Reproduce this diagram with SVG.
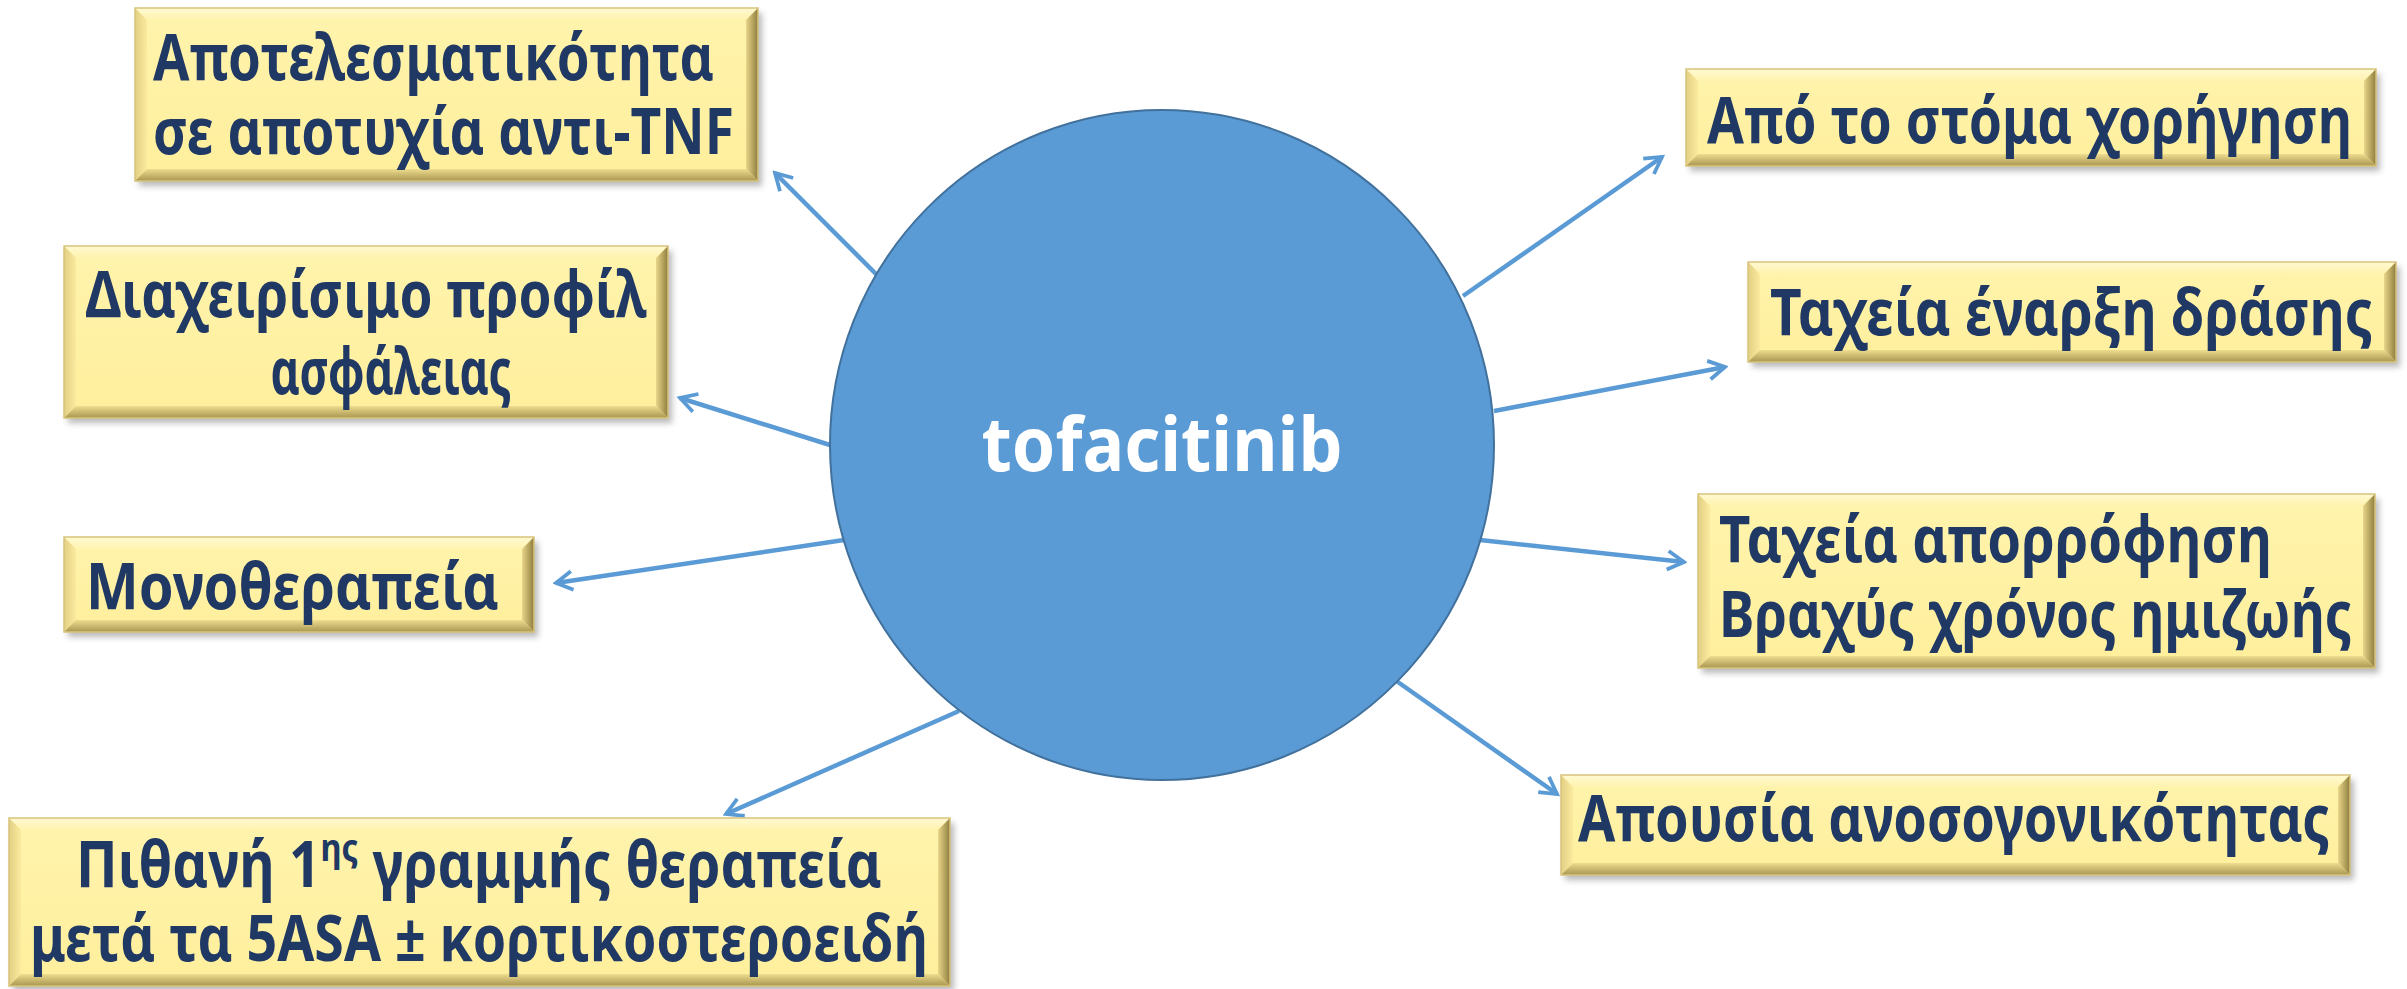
<svg xmlns="http://www.w3.org/2000/svg" width="2407" height="989" viewBox="0 0 2407 989">
<defs>
<style>
.t{font-family:"Noto Sans","Open Sans","DejaVu Sans",sans-serif;font-weight:700;font-size:64px;fill:#203864}
.c{font-family:"Noto Sans","Open Sans","DejaVu Sans",sans-serif;font-weight:700;font-size:76px;fill:#ffffff}
.face{fill:url(#gFace)}
.bt{fill:url(#gTop)}
.bl{fill:url(#gLeft)}
.br{fill:url(#gRight)}
.bb{fill:url(#gBottom)}
.sh{fill:#7f7f7f;opacity:0.55;filter:url(#blur)}
.edge{fill:none;stroke:#d8c47c;stroke-width:1.5}
.con{stroke:#5b9bd5;stroke-width:4.5;fill:none;stroke-linecap:butt}
</style>
<linearGradient id="gFace" x1="0" y1="0" x2="0" y2="1">
<stop offset="0" stop-color="#fff4ad"/><stop offset="1" stop-color="#ffef9c"/>
</linearGradient>
<linearGradient id="gTop" x1="0" y1="0" x2="0" y2="1">
<stop offset="0" stop-color="#fff9d2"/><stop offset="1" stop-color="#fff3ae"/>
</linearGradient>
<linearGradient id="gLeft" x1="0" y1="0" x2="1" y2="0">
<stop offset="0" stop-color="#e2cf84"/><stop offset="1" stop-color="#fbeb9f"/>
</linearGradient>
<linearGradient id="gRight" x1="0" y1="0" x2="1" y2="0">
<stop offset="0" stop-color="#e9d68a"/><stop offset="1" stop-color="#8e7d3e"/>
</linearGradient>
<linearGradient id="gBottom" x1="0" y1="0" x2="0" y2="1">
<stop offset="0" stop-color="#eedc8f"/><stop offset="1" stop-color="#a99650"/>
</linearGradient>
<filter id="blur" x="-10%" y="-10%" width="120%" height="130%"><feGaussianBlur stdDeviation="3"/></filter>
<marker id="arr" viewBox="0 0 20 20" refX="17" refY="10" markerWidth="5.2" markerHeight="5.2" markerUnits="strokeWidth" orient="auto">
<path d="M3,2 L17,10 L3,18" fill="none" stroke="#5b9bd5" stroke-width="3.2" stroke-linejoin="miter"/>
</marker>
</defs>
<rect width="2407" height="989" fill="#ffffff"/>

<g id="connectors">
<line class="con" x1="878" y1="276" x2="775" y2="173" marker-end="url(#arr)"/>
<line class="con" x1="830" y1="445" x2="680" y2="398" marker-end="url(#arr)"/>
<line class="con" x1="844" y1="540" x2="556" y2="583" marker-end="url(#arr)"/>
<line class="con" x1="959" y1="711" x2="726" y2="814" marker-end="url(#arr)"/>
<line class="con" x1="1463" y1="296" x2="1662" y2="157" marker-end="url(#arr)"/>
<line class="con" x1="1494" y1="411" x2="1725" y2="367" marker-end="url(#arr)"/>
<line class="con" x1="1480" y1="540" x2="1684" y2="562" marker-end="url(#arr)"/>
<line class="con" x1="1395" y1="680" x2="1557" y2="794" marker-end="url(#arr)"/>
</g>

<g id="center">
<ellipse cx="1162" cy="445" rx="332" ry="335" fill="#5b9bd5" stroke="#41719c" stroke-width="2"/>
<text class="c" x="1162" y="471" text-anchor="middle" textLength="361" lengthAdjust="spacingAndGlyphs">tofacitinib</text>
</g>

<g id="boxA" transform="translate(135,8)">
<rect class="sh" x="4" y="5" width="623" height="173"/>
<rect class="face" width="623" height="173"/>
<polygon class="bt" points="0,0 623,0 611,12 12,12"/>
<polygon class="bl" points="0,0 12,12 12,161 0,173"/>
<polygon class="br" points="623,0 623,173 611,161 611,12"/>
<polygon class="bb" points="0,173 12,161 611,161 623,173"/>
<rect class="edge" width="623" height="173"/>
<text class="t" x="18" y="72" textLength="561" lengthAdjust="spacingAndGlyphs">Αποτελεσματικότητα</text>
<text class="t" x="18" y="146" textLength="581" lengthAdjust="spacingAndGlyphs">σε αποτυχία αντι-TNF</text>
</g>

<g id="boxB" transform="translate(64,246)">
<rect class="sh" x="4" y="5" width="604" height="172"/>
<rect class="face" width="604" height="172"/>
<polygon class="bt" points="0,0 604,0 592,12 12,12"/>
<polygon class="bl" points="0,0 12,12 12,160 0,172"/>
<polygon class="br" points="604,0 604,172 592,160 592,12"/>
<polygon class="bb" points="0,172 12,160 592,160 604,172"/>
<rect class="edge" width="604" height="172"/>
<text class="t" x="302" y="71" text-anchor="middle" textLength="561" lengthAdjust="spacingAndGlyphs">Διαχειρίσιμο προφίλ</text>
<text class="t" x="327" y="148" text-anchor="middle" textLength="241" lengthAdjust="spacingAndGlyphs">ασφάλειας</text>
</g>

<g id="boxC" transform="translate(64,537)">
<rect class="sh" x="4" y="5" width="470" height="95"/>
<rect class="face" width="470" height="95"/>
<polygon class="bt" points="0,0 470,0 458,12 12,12"/>
<polygon class="bl" points="0,0 12,12 12,83 0,95"/>
<polygon class="br" points="470,0 470,95 458,83 458,12"/>
<polygon class="bb" points="0,95 12,83 458,83 470,95"/>
<rect class="edge" width="470" height="95"/>
<text class="t" x="22" y="72" textLength="413" lengthAdjust="spacingAndGlyphs">Μονοθεραπεία</text>
</g>

<g id="boxD" transform="translate(9,818)">
<rect class="sh" x="4" y="5" width="941" height="168"/>
<rect class="face" width="941" height="168"/>
<polygon class="bt" points="0,0 941,0 929,12 12,12"/>
<polygon class="bl" points="0,0 12,12 12,156 0,168"/>
<polygon class="br" points="941,0 941,168 929,156 929,12"/>
<polygon class="bb" points="0,168 12,156 929,156 941,168"/>
<rect class="edge" width="941" height="168"/>
<text class="t" x="470" y="69" text-anchor="middle" textLength="806" lengthAdjust="spacingAndGlyphs">Πιθανή 1<tspan font-size="38" dy="-26">ης</tspan><tspan dy="26"> γραμμής θεραπεία</tspan></text>
<text class="t" x="470" y="143" text-anchor="middle" textLength="898" lengthAdjust="spacingAndGlyphs">μετά τα 5ASA ± κορτικοστεροειδή</text>
</g>

<g id="boxE" transform="translate(1686,69)">
<rect class="sh" x="4" y="5" width="690" height="97"/>
<rect class="face" width="690" height="97"/>
<polygon class="bt" points="0,0 690,0 678,12 12,12"/>
<polygon class="bl" points="0,0 12,12 12,85 0,97"/>
<polygon class="br" points="690,0 690,97 678,85 678,12"/>
<polygon class="bb" points="0,97 12,85 678,85 690,97"/>
<rect class="edge" width="690" height="97"/>
<text class="t" x="21" y="74" textLength="645" lengthAdjust="spacingAndGlyphs">Από το στόμα χορήγηση</text>
</g>

<g id="boxF" transform="translate(1748,262)">
<rect class="sh" x="4" y="5" width="648" height="100"/>
<rect class="face" width="648" height="100"/>
<polygon class="bt" points="0,0 648,0 636,12 12,12"/>
<polygon class="bl" points="0,0 12,12 12,88 0,100"/>
<polygon class="br" points="648,0 648,100 636,88 636,12"/>
<polygon class="bb" points="0,100 12,88 636,88 648,100"/>
<rect class="edge" width="648" height="100"/>
<text class="t" x="22" y="73" textLength="603" lengthAdjust="spacingAndGlyphs">Ταχεία έναρξη δράσης</text>
</g>

<g id="boxG" transform="translate(1698,494)">
<rect class="sh" x="4" y="5" width="677" height="174"/>
<rect class="face" width="677" height="174"/>
<polygon class="bt" points="0,0 677,0 665,12 12,12"/>
<polygon class="bl" points="0,0 12,12 12,162 0,174"/>
<polygon class="br" points="677,0 677,174 665,162 665,12"/>
<polygon class="bb" points="0,174 12,162 665,162 677,174"/>
<rect class="edge" width="677" height="174"/>
<text class="t" x="21" y="68" textLength="553" lengthAdjust="spacingAndGlyphs">Ταχεία απορρόφηση</text>
<text class="t" x="21" y="143" textLength="633" lengthAdjust="spacingAndGlyphs">Βραχύς χρόνος ημιζωής</text>
</g>

<g id="boxH" transform="translate(1561,775)">
<rect class="sh" x="4" y="5" width="789" height="100"/>
<rect class="face" width="789" height="100"/>
<polygon class="bt" points="0,0 789,0 777,12 12,12"/>
<polygon class="bl" points="0,0 12,12 12,88 0,100"/>
<polygon class="br" points="789,0 789,100 777,88 777,12"/>
<polygon class="bb" points="0,100 12,88 777,88 789,100"/>
<rect class="edge" width="789" height="100"/>
<text class="t" x="17" y="66" textLength="752" lengthAdjust="spacingAndGlyphs">Απουσία ανοσογονικότητας</text>
</g>
</svg>
